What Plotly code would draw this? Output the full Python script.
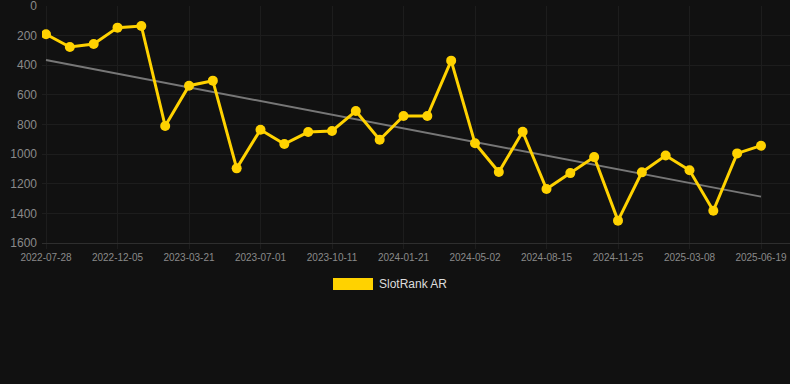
import plotly.graph_objects as go

dates = [
    "2022-07-28", "2022-09-10", "2022-10-23", "2022-12-05", "2023-01-10",
    "2023-02-14", "2023-03-21", "2023-04-24", "2023-05-28", "2023-07-01",
    "2023-08-04", "2023-09-07", "2023-10-11", "2023-11-14", "2023-12-18",
    "2024-01-21", "2024-02-24", "2024-03-29", "2024-05-02", "2024-06-06",
    "2024-07-11", "2024-08-15", "2024-09-18", "2024-10-22", "2024-11-25",
    "2024-12-29", "2025-02-02", "2025-03-08", "2025-04-11", "2025-05-15",
    "2025-06-19",
]
ranks = [
    191, 277, 257, 146, 135, 810, 538, 504, 1096, 835,
    932, 851, 844, 709, 903, 743, 743, 369, 927, 1121,
    849, 1236, 1128, 1020, 1449, 1123, 1009, 1109, 1382, 995,
    943,
]
trend_x = [dates[0], dates[-1]]
trend_y = [365, 1287]
tick_labels = dates[::3]
y_ticks = [0, 200, 400, 600, 800, 1000, 1200, 1400, 1600]

bg = "#111111"
gold = "#FFD200"
grid = "#1d1d1d"

L, B, PH, PW = 42, 141, 237, 748

fig = go.Figure()
fig.add_trace(go.Scatter(
    x=trend_x, y=trend_y, mode="lines",
    line=dict(color="#777777", width=2), showlegend=False, hoverinfo="skip",
))
fig.add_trace(go.Scatter(
    x=dates, y=ranks, mode="lines+markers", name="SlotRank AR",
    line=dict(color=gold, width=3),
    marker=dict(color=gold, size=10),
    showlegend=False,
))

# legend drawn manually (wide colour swatch like the reference)
fig.add_shape(type="rect", xref="paper", yref="paper",
              x0=(333 - L) / PW, x1=(373 - L) / PW,
              y0=-(290 - 243) / PH, y1=-(278 - 243) / PH,
              fillcolor=gold, line=dict(width=0))
fig.add_annotation(text="SlotRank AR", xref="paper", yref="paper",
                   x=(377 - L) / PW, y=-(284 - 243) / PH,
                   xanchor="left", yanchor="middle", showarrow=False,
                   font=dict(color="#dddddd", size=12,
                             family="Liberation Sans, Arial, sans-serif"))

fig.update_layout(
    width=790, height=384,
    paper_bgcolor=bg, plot_bgcolor=bg,
    margin=dict(l=L, r=0, t=6, b=B),
    font=dict(family="Liberation Sans, Arial, sans-serif", size=11, color="#8a8a8a"),
    xaxis=dict(
        type="category", categoryorder="array", categoryarray=dates,
        range=[-0.168, 31.217],
        tickmode="array", tickvals=tick_labels, ticktext=tick_labels,
        showgrid=True, gridcolor=grid, gridwidth=1,
        showline=True, linecolor="#2e2e2e", linewidth=1,
        ticks="outside", ticklen=5, tickcolor=grid,
        tickfont=dict(size=10, color="#8a8a8a"),
        zeroline=False, fixedrange=True, ticklabeloverflow="allow",
    ),
    yaxis=dict(
        range=[1600, 0],
        tickvals=y_ticks,
        showgrid=True, gridcolor=grid, gridwidth=1,
        zeroline=False, showline=False,
        tickfont=dict(size=12, color="#8a8a8a"),
        ticks="", ticklabelstandoff=4, fixedrange=True,
        ticklabeloverflow="allow",
    ),
)

fig.write_html(
    "out.html",
    config={"displayModeBar": False},
    post_script="document.body.style.margin='0';document.body.style.background='#111111';",
)
